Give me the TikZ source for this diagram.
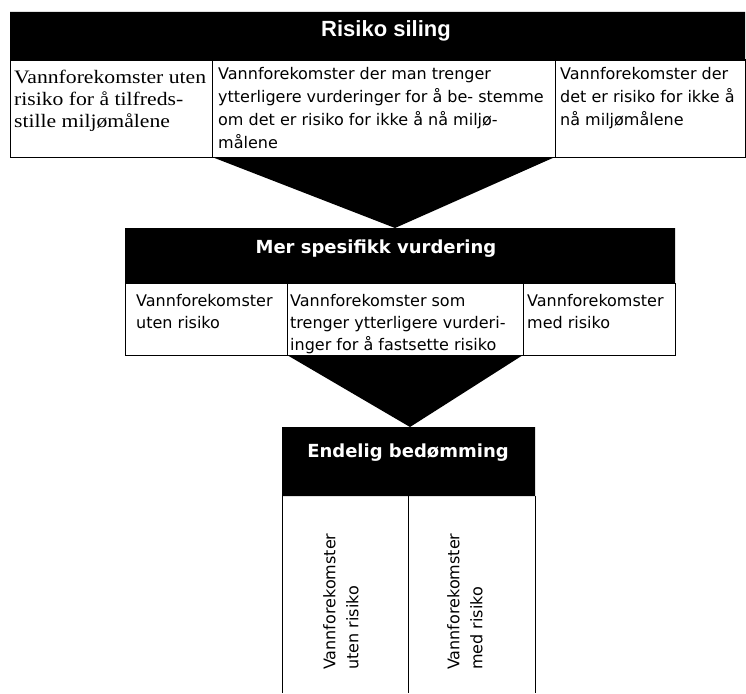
\documentclass[tikz,border=0pt]{standalone}
\usepackage{fontspec}
\setmainfont{DejaVu Sans}
\newfontfamily\timesfont[FakeStretch=1.14]{Liberation Serif}
\newfontfamily\arialfont{Liberation Sans}
\tikzset{
  cellline/.style={draw=black, line width=1pt},
  headtext/.style={text=white, anchor=base, inner sep=0pt, font=\bfseries\fontsize{18}{22}\selectfont},
  celltext/.style={anchor=north west, align=left, inner sep=0pt, font=\fontsize{16}{22}\selectfont},
  uptext/.style={celltext, rotate=90, font=\fontsize{16}{23}\selectfont}
}
\begin{document}
\begin{tikzpicture}[x=1pt, y=-1pt]
      \useasboundingbox (0,0) rectangle (746,693);
      \coordinate (fa) at (212,157);
      \coordinate (fb) at (555,157);
      \coordinate (fc) at (395,228);
      \coordinate (ga) at (287,355);
      \coordinate (gb) at (523,355);
      \coordinate (gc) at (410,427);
      \fill (fa) -- (fb) -- (fc) -- cycle
            (ga) -- (gb) -- (gc) -- cycle;
      \fill (10,12) rectangle (745,60)
            (125,228) rectangle (675,283)
            (282,427) rectangle (535,496);
      \draw[cellline] (10,60) rectangle (212,157)
                      (212,60) rectangle (555,157)
                      (555,60) rectangle (745,157)
                      (125,283) rectangle (287,355)
                      (287,283) rectangle (523,355)
                      (523,283) rectangle (675,355)
                      (282,496) -- (282,693)
                      (408,496) -- (408,693)
                      (535,496) -- (535,693);
      \node (siling) [headtext, font=\arialfont\bfseries\fontsize{22}{26}\selectfont] at (386,37) {Risiko siling};
      \node (spesifikk) [headtext] at (376,253) {Mer spesifikk vurdering};
      \node (endelig) [headtext] at (408,457) {Endelig bedømming};
      \node (sa) [celltext, font=\timesfont\fontsize{19}{22}\selectfont] at (14,70) {Vannforekomster uten\\risiko for å tilfreds-\\stille miljømålene};
      \node (sb) [celltext, font=\fontsize{16}{23}\selectfont] at (218,67) {Vannforekomster der man trenger\\ytterligere vurderinger for å be- stemme\\om det er risiko for ikke å nå miljø-\\målene};
      \node (sc) [celltext, font=\fontsize{16}{23}\selectfont] at (560,67) {Vannforekomster der\\det er risiko for ikke å\\nå miljømålene};
      \node (ma) [celltext] at (136,294) {Vannforekomster\\uten risiko};
      \node (mb) [celltext] at (290,294) {Vannforekomster som\\trenger ytterligere vurderi-\\inger for å fastsette risiko};
      \node (mc) [celltext] at (527,294) {Vannforekomster\\med risiko};
      \node (ea) [uptext] at (323,670) {Vannforekomster\\uten risiko};
      \node (eb) [uptext] at (447,670) {Vannforekomster\\med risiko};
\end{tikzpicture}
\end{document}
